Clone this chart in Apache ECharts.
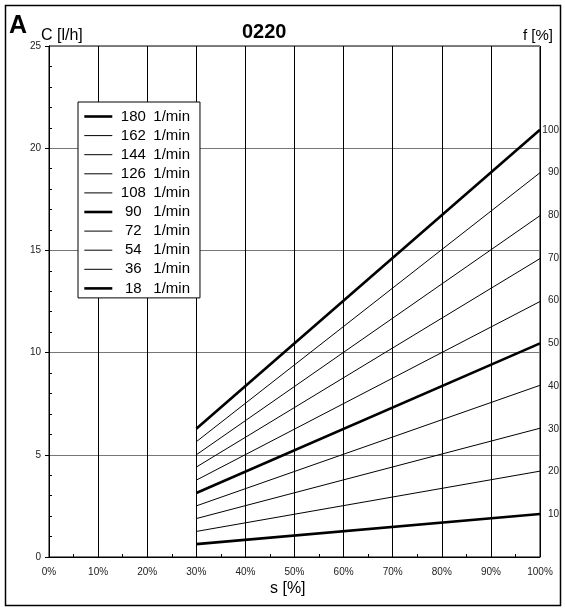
<!DOCTYPE html>
<html>
<head>
<meta charset="utf-8">
<script src="https://cdn.jsdelivr.net/npm/echarts@6/dist/echarts.min.js"></script>
<style>
  html, body { margin: 0; padding: 0; background: #fff; }
  #main { width: 565px; height: 610px; }
</style>
</head>
<body>
<div id="main"></div>
<script>
// speeds in 1/min, legend order
var speeds = [180, 162, 144, 126, 108, 90, 72, 54, 36, 18];
// stroke s [%] where each line starts and ends
var strokeRange = [30, 100];
// flow C [l/h] at s = 30% and at s = 100%
var flowAt30 = [6.27, 5.64, 5.0, 4.4, 3.76, 3.13, 2.5, 1.88, 1.25, 0.63];
var flowAt100 = [20.9, 18.8, 16.7, 14.6, 12.5, 10.45, 8.4, 6.3, 4.2, 2.1];
// thick lines
var boldSpeeds = [180, 90, 18];
var fLabels = [10, 20, 30, 40, 50, 60, 70, 80, 90, 100];

var FONT = 'Liberation Sans, Arial, sans-serif';

function lineWidth(n) {
    return boldSpeeds.indexOf(n) >= 0 ? 2.6 : 1;
}

var series = speeds.map(function (n, i) {
    return {
        name: n + ' 1/min',
        type: 'line',
        symbol: 'none',
        yAxisIndex: 0,
        lineStyle: { color: '#000', width: lineWidth(n) },
        itemStyle: { color: '#000' },
        emphasis: { disabled: true },
        data: [[strokeRange[0], flowAt30[i]], [strokeRange[1], flowAt100[i]]]
    };
});
// invisible series to drive the right axis
series.push({
    type: 'line', yAxisIndex: 1, symbol: 'none', silent: true,
    lineStyle: { opacity: 0 }, data: [[100, fLabels[fLabels.length - 1]]]
});

var chart = echarts.init(document.getElementById('main'));
chart.setOption({
    animation: false,
    textStyle: { fontFamily: FONT },
    grid: {
        left: 49, right: 25, top: 46, bottom: 53, outerBoundsMode: 'none',
        show: true, borderColor: '#000', borderWidth: 1
    },
    legend: {
        orient: 'vertical',
        left: 78, top: 102,
        data: speeds.map(function (n) {
            return {
                name: n + ' 1/min',
                itemStyle: { opacity: 0 },
                lineStyle: { color: '#000', width: lineWidth(n) }
            };
        }),
        itemWidth: 28, itemHeight: 15, itemGap: 4.1,
        padding: [7, 10, 2, 5],
        backgroundColor: '#fff',
        borderColor: '#000', borderWidth: 1, borderRadius: 0,
        selectedMode: false,
        formatter: function (name) {
            var p = name.split(' ');
            return '{n|' + p[0] + '}{u|' + p[1] + '}';
        },
        textStyle: {
            rich: {
                n: { width: 32, align: 'right', fontSize: 15, lineHeight: 17, fontFamily: FONT, color: '#000' },
                u: { padding: [0, 0, 0, 4], fontSize: 15, lineHeight: 17, fontFamily: FONT, color: '#000' }
            }
        }
    },
    xAxis: {
        type: 'value', min: 0, max: 100, interval: 10,
        axisLine: { lineStyle: { color: '#000' } },
        axisTick: { show: false },
        minorTick: { show: true, splitNumber: 2, length: -3, lineStyle: { color: '#000' } },
        axisLabel: { formatter: '{value}%', fontSize: 10, color: '#222', margin: 10 },
        splitLine: { lineStyle: { color: '#000', width: 1 } }
    },
    yAxis: [{
        type: 'value', min: 0, max: 25, interval: 5,
        axisLine: { show: true, lineStyle: { color: '#000' } },
        axisTick: { show: true, length: 4, lineStyle: { color: '#000' } },
        minorTick: { show: true, splitNumber: 5, length: -3, lineStyle: { color: '#000' } },
        axisLabel: { fontSize: 10, color: '#222', margin: 8 },
        splitLine: { lineStyle: { color: '#777', width: 1 } }
    }, {
        type: 'value', position: 'right', min: 0, max: 2500 / 20.9, interval: 10,
        axisLine: { show: false }, axisTick: { show: false },
        splitLine: { show: false },
        axisLabel: {
            fontSize: 10, color: '#222', margin: 19, align: 'right',
            formatter: function (v) { return fLabels.indexOf(Math.round(v)) >= 0 && Math.abs(v - Math.round(v)) < 1e-6 ? String(Math.round(v)) : ''; }
        }
    }],
    graphic: [
        { type: 'rect', shape: { x: 5.5, y: 5.5, width: 555, height: 600 }, style: { fill: null, stroke: '#000', lineWidth: 1.5 } },
        { type: 'text', left: 9, top: 14, style: { text: 'A', font: 'bold 25px ' + FONT, fill: '#000' } },
        { type: 'text', left: 41, top: 28, style: { text: 'C [l/h]', font: '16px ' + FONT, fill: '#000' } },
        { type: 'text', left: 242, top: 22, style: { text: '0220', font: 'bold 20px ' + FONT, fill: '#000' } },
        { type: 'text', left: 523, top: 28, style: { text: 'f [%]', font: '15px ' + FONT, fill: '#000' } },
        { type: 'text', left: 270, top: 581, style: { text: 's [%]', font: '16px ' + FONT, fill: '#000' } }
    ],
    series: series
});
</script>
</body>
</html>
